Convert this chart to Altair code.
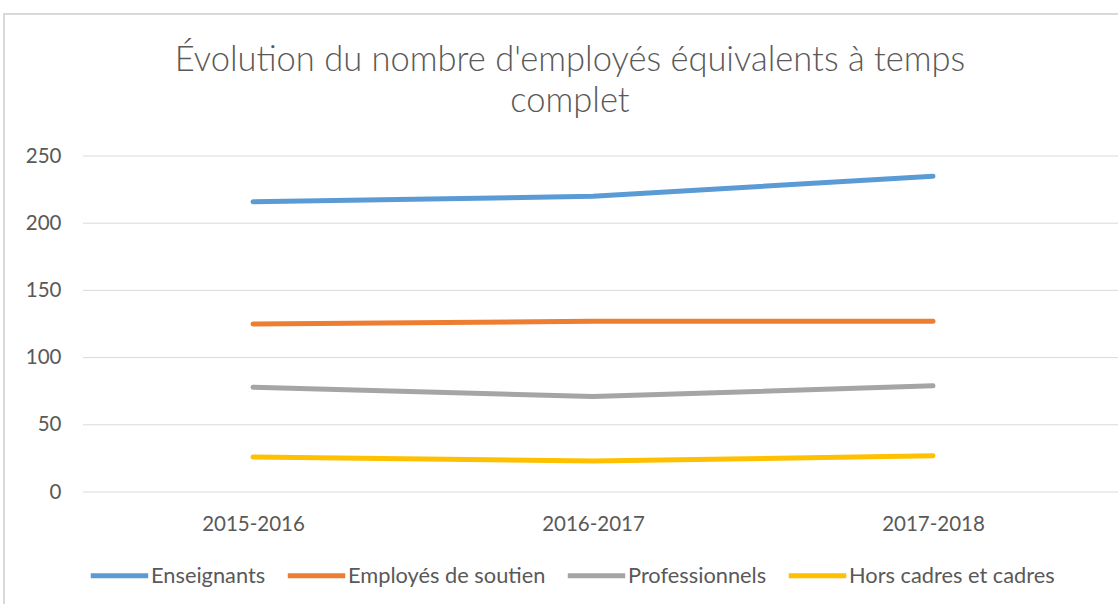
import altair as alt
import pandas as pd

years = ["2015-2016", "2016-2017", "2017-2018"]
series_names = ["Enseignants", "Employés de soutien", "Professionnels", "Hors cadres et cadres"]
enseignants = [216, 220, 235]
employes = [125, 127, 127]
professionnels = [78, 71, 79]
hors_cadres = [26, 23, 27]
colors = ["#5B9BD5", "#ED7D31", "#A5A5A5", "#FFC000"]
grid_values = [0, 50, 100, 150, 200, 250]

rows = []
for name, vals in zip(series_names, [enseignants, employes, professionnels, hors_cadres]):
    for y, v in zip(years, vals):
        rows.append({"Année": y, "Série": name, "Valeur": v})
df = pd.DataFrame(rows)
grid_df = pd.DataFrame({"g": grid_values})

FONT = "Lato"
GREY = "#595959"

yscale = alt.Scale(domain=[0, 250])
yaxis = alt.Axis(values=grid_values, title=None, domain=False, ticks=False, grid=False,
                 labelFontSize=20.5, labelColor=GREY, labelFont=FONT, labelPadding=22)

grid = alt.Chart(grid_df).mark_rule(color="#D9D9D9", strokeWidth=1).encode(
    y=alt.Y("g:Q", scale=yscale, axis=yaxis),
    x=alt.value(0), x2=alt.value(1035),
)

border = alt.Chart(grid_df).mark_rect(fill=None, stroke="#D9D9D9", strokeWidth=1.5).encode(
    x=alt.value(-79), y=alt.value(-142), x2=alt.value(1200), y2=alt.value(700)
)

lines = alt.Chart(df).mark_line(strokeWidth=5, strokeCap="round").encode(
    x=alt.X("Année:N", sort=years, scale=alt.Scale(paddingOuter=0.5, paddingInner=0),
            axis=alt.Axis(title=None, domain=False, ticks=False, labelAngle=0, grid=False,
                          labelFontSize=20.5, labelColor=GREY, labelFont=FONT, labelPadding=22)),
    y=alt.Y("Valeur:Q", scale=yscale, axis=yaxis),
    color=alt.Color("Série:N", sort=series_names,
                    scale=alt.Scale(domain=series_names, range=colors),
                    legend=alt.Legend(title=None, orient="none", legendX=5, legendY=388,
                                      direction="horizontal", symbolType="stroke",
                                      symbolStrokeWidth=5, symbolSize=3300,
                                      labelFontSize=21.8, labelColor=GREY, labelFont=FONT,
                                      labelLimit=400, labelOffset=0, columnPadding=11)),
    detail="Série:N",
)

chart = alt.layer(border, grid, lines).properties(
    width=1020, height=336,
    autosize=alt.AutoSizeParams(type="none"),
    padding={"left": 83, "top": 156, "right": 15, "bottom": 112},
    title=alt.Title(["Évolution du nombre d'employés équivalents à temps", "complet"],
                    fontSize=34.5, font=FONT, fontWeight=300, color=GREY,
                    anchor="middle", dx=-23, offset=0, dy=106, lineHeight=41),
).configure_view(stroke=None)

chart.save("out.html", embed_options={"renderer": "svg", "actions": False})
